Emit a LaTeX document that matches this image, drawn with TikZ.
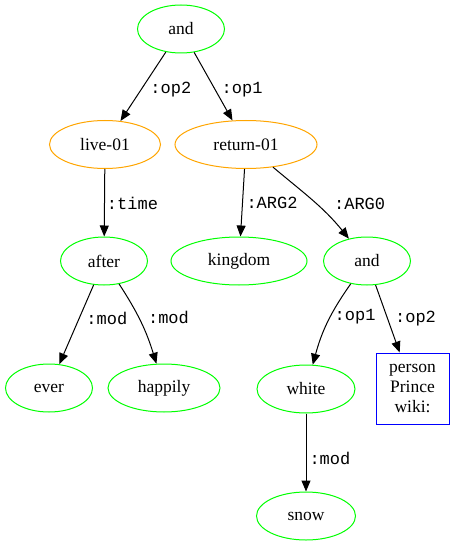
\documentclass[tikz,border=0pt]{standalone}
\usepackage{fontspec}
\setmainfont{Liberation Serif}
\setmonofont{Liberation Mono}
\usetikzlibrary{shapes.geometric, arrows.meta}
\definecolor{amrgreen}{RGB}{0,255,0}
\definecolor{amrorange}{RGB}{255,165,0}
\definecolor{amrblue}{RGB}{0,0,255}

\begin{document}
\begin{tikzpicture}[x=1pt, y=1pt, >={Triangle[length=11pt, width=9pt]}]

        % --- Styles ---
        \tikzstyle{concept} = [ellipse, draw=amrgreen, line width=1pt, inner sep=0pt, minimum height=48pt, font=\fontsize{17.5}{20}\selectfont]
        \tikzstyle{frame} = [concept, draw=amrorange]
        \tikzstyle{namebox} = [rectangle, draw=amrblue, line width=1pt, inner sep=0pt, minimum width=73pt, minimum height=71pt, align=center, font=\fontsize{17.5}{20}\selectfont]
        \tikzstyle{arrow} = [line width=1pt, ->]
        \tikzstyle{role} = [anchor=west, inner sep=0pt, font=\ttfamily\fontsize{17}{20}\selectfont]

        \useasboundingbox (0,0) rectangle (455,-545);

        % --- Nodes ---

        % 1. Top level
        \node (and) [concept, minimum width=87pt] at (181,-29) {and};

        % 2. Frames
        \node (live) [frame, minimum width=111pt] at (105,-144.5) {live-01};
        \node (return) [frame, minimum width=142pt] at (246,-144.5) {return-01};

        % 3. Third row
        \node (after) [concept, minimum width=87pt] at (104,-261) {after};
        \node (kingdom) [concept, minimum width=136pt] at (239,-261) {kingdom};
        \node (and2) [concept, minimum width=87pt] at (367,-261) {and};

        % 4. Fourth row
        \node (ever) [concept, minimum width=87pt] at (49,-388) {ever};
        \node (happily) [concept, minimum width=112pt] at (164,-388) {happily};
        \node (white) [concept, minimum width=98pt] at (306,-389) {white};
        \node (person) [namebox] at (412.5,-388.5) {person\\Prince\\wiki:};

        % 5. Bottom
        \node (snow) [concept, minimum width=99pt] at (306,-516) {snow};

        % --- Arrows ---
        \draw[arrow] (and) -- node[role, pos=0.55, xshift=9pt] {:op2} (live);
        \draw[arrow] (and) -- node[role, pos=0.55, xshift=6pt] {:op1} (return);
        \draw[arrow] (live) -- node[role, pos=0.51, xshift=2pt] {:time} (after);
        \draw[arrow] (return) -- node[role, pos=0.5, xshift=3.5pt] {:ARG2} (kingdom);
        \draw[arrow] (return) to[out=-40, in=129] node[role, pos=0.55, xshift=17pt] {:ARG0} (and2);
        \draw[arrow] (after) -- node[role, pos=0.43, xshift=7pt] {:mod} (ever);
        \draw[arrow] (after) to[bend left=8] node[role, pos=0.43, xshift=9pt] {:mod} (happily);
        \draw[arrow] (and2) to[bend right=10] node[role, pos=0.43, xshift=4pt] {:op1} (white);
        \draw[arrow] (and2) -- node[role, pos=0.5, xshift=7pt] {:op2} (person);
        \draw[arrow] (white) -- node[role, pos=0.57, xshift=3pt] {:mod} (snow);
\end{tikzpicture}
\end{document}
